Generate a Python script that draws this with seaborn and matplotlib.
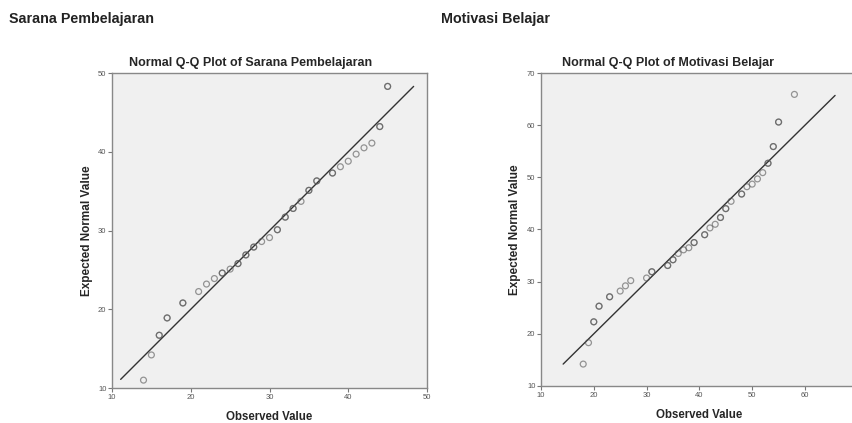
import matplotlib
matplotlib.use("Agg")
import matplotlib.pyplot as plt
import seaborn as sns
import pandas as pd

# Sarana Pembelajaran
sarana_obs = [14, 15, 16, 17, 19, 21, 22, 23, 24, 25, 26, 27, 28, 29, 30,
              31, 32, 33, 34, 35, 36, 38, 39, 40, 41, 42, 43, 44, 45]
sarana_exp = [11.0, 14.2, 16.7, 18.9, 20.8, 22.25, 23.2, 23.9, 24.6, 25.1, 25.8,
              26.9, 27.9, 28.6, 29.1, 30.1, 31.7, 32.8, 33.7, 35.1, 36.3, 37.3,
              38.1, 38.8, 39.7, 40.5, 41.1, 43.2, 48.3]
sarana_n = [1, 1, 2, 2, 2, 1, 1, 1, 2, 1, 2, 2, 2, 1, 1,
            2, 2, 2, 1, 2, 2, 2, 1, 1, 1, 1, 1, 2, 2]
sarana_line = [11.1, 48.3]

# Motivasi Belajar
motivasi_obs = [18, 19, 20, 21, 23, 25, 26, 27, 30, 31, 34, 35, 36, 37, 38, 39,
                41, 42, 43, 44, 45, 46, 48, 49, 50, 51, 52, 53, 54, 55, 58]
motivasi_exp = [14.2, 18.3, 22.3, 25.3, 27.1, 28.2, 29.2, 30.2, 30.7, 31.9, 33.1,
                34.2, 35.4, 36.1, 36.5, 37.5, 39.0, 40.3, 41.0, 42.3, 44.0, 45.4,
                46.8, 48.2, 48.7, 49.7, 50.9, 52.7, 55.9, 60.6, 65.9]
motivasi_n = [1, 1, 2, 2, 2, 1, 1, 1, 1, 2, 2, 2, 1, 1, 1, 2,
              2, 1, 1, 2, 2, 1, 2, 1, 1, 1, 1, 2, 2, 2, 1]
motivasi_line = [14.2, 65.7]

sns.set_style("white")
plt.rcParams["font.family"] = ["Liberation Sans", "DejaVu Sans"]

fig = plt.figure(figsize=(8.53, 4.23), dpi=100)
ax1 = fig.add_axes([0.1313, 0.0827, 0.3693, 0.7447])
ax2 = fig.add_axes([0.6342, 0.0875, 0.3714, 0.7399])


def qq_panel(ax, obs, exp, n, line, lim, ticks, title, title_x):
    df = pd.DataFrame({"obs": obs, "exp": exp, "n": n})
    df = df.loc[df.index.repeat(df["n"])]
    ax.set_facecolor("#f0f0f0")
    sns.lineplot(x=line, y=line, ax=ax, color="#333333", linewidth=1.0)
    sns.scatterplot(data=df, x="obs", y="exp", ax=ax, marker="o",
                    facecolor="none", edgecolor="#555555", alpha=0.6,
                    linewidth=0.9, s=18, zorder=3)
    ax.set_xlim(lim)
    ax.set_ylim(lim)
    ax.set_xticks(ticks)
    ax.set_yticks(ticks)
    ax.tick_params(axis="both", labelsize=5.5, labelcolor="#555555",
                   length=3, width=0.8, color="#777777", direction="out", pad=1,
                   bottom=True, left=True)
    for sp in ax.spines.values():
        sp.set_color("#888888")
        sp.set_linewidth(1.0)
    ax.set_title(title, fontsize=9, fontweight="bold", pad=5, x=title_x)
    ax.set_xlabel("Observed Value", fontsize=8.3, fontweight="bold", labelpad=7.5)
    ax.set_ylabel("Expected Normal Value", fontsize=8.5, fontweight="bold", labelpad=4)
    ax.grid(False)


qq_panel(ax1, sarana_obs, sarana_exp, sarana_n, sarana_line, (10, 50),
         [10, 20, 30, 40, 50], "Normal Q-Q Plot of Sarana Pembelajaran", 0.44)
qq_panel(ax2, motivasi_obs, motivasi_exp, motivasi_n, motivasi_line, (10, 70),
         [10, 20, 30, 40, 50, 60, 70], "Normal Q-Q Plot of Motivasi Belajar", 0.40)

fig.text(9 / 853, 1 - 19 / 423, "Sarana Pembelajaran", fontsize=10.3,
         fontweight="bold", va="center", color="#222222")
fig.text(441 / 853, 1 - 19 / 423, "Motivasi Belajar", fontsize=10.3,
         fontweight="bold", va="center", color="#222222")

fig.savefig("out.png", dpi=100)
